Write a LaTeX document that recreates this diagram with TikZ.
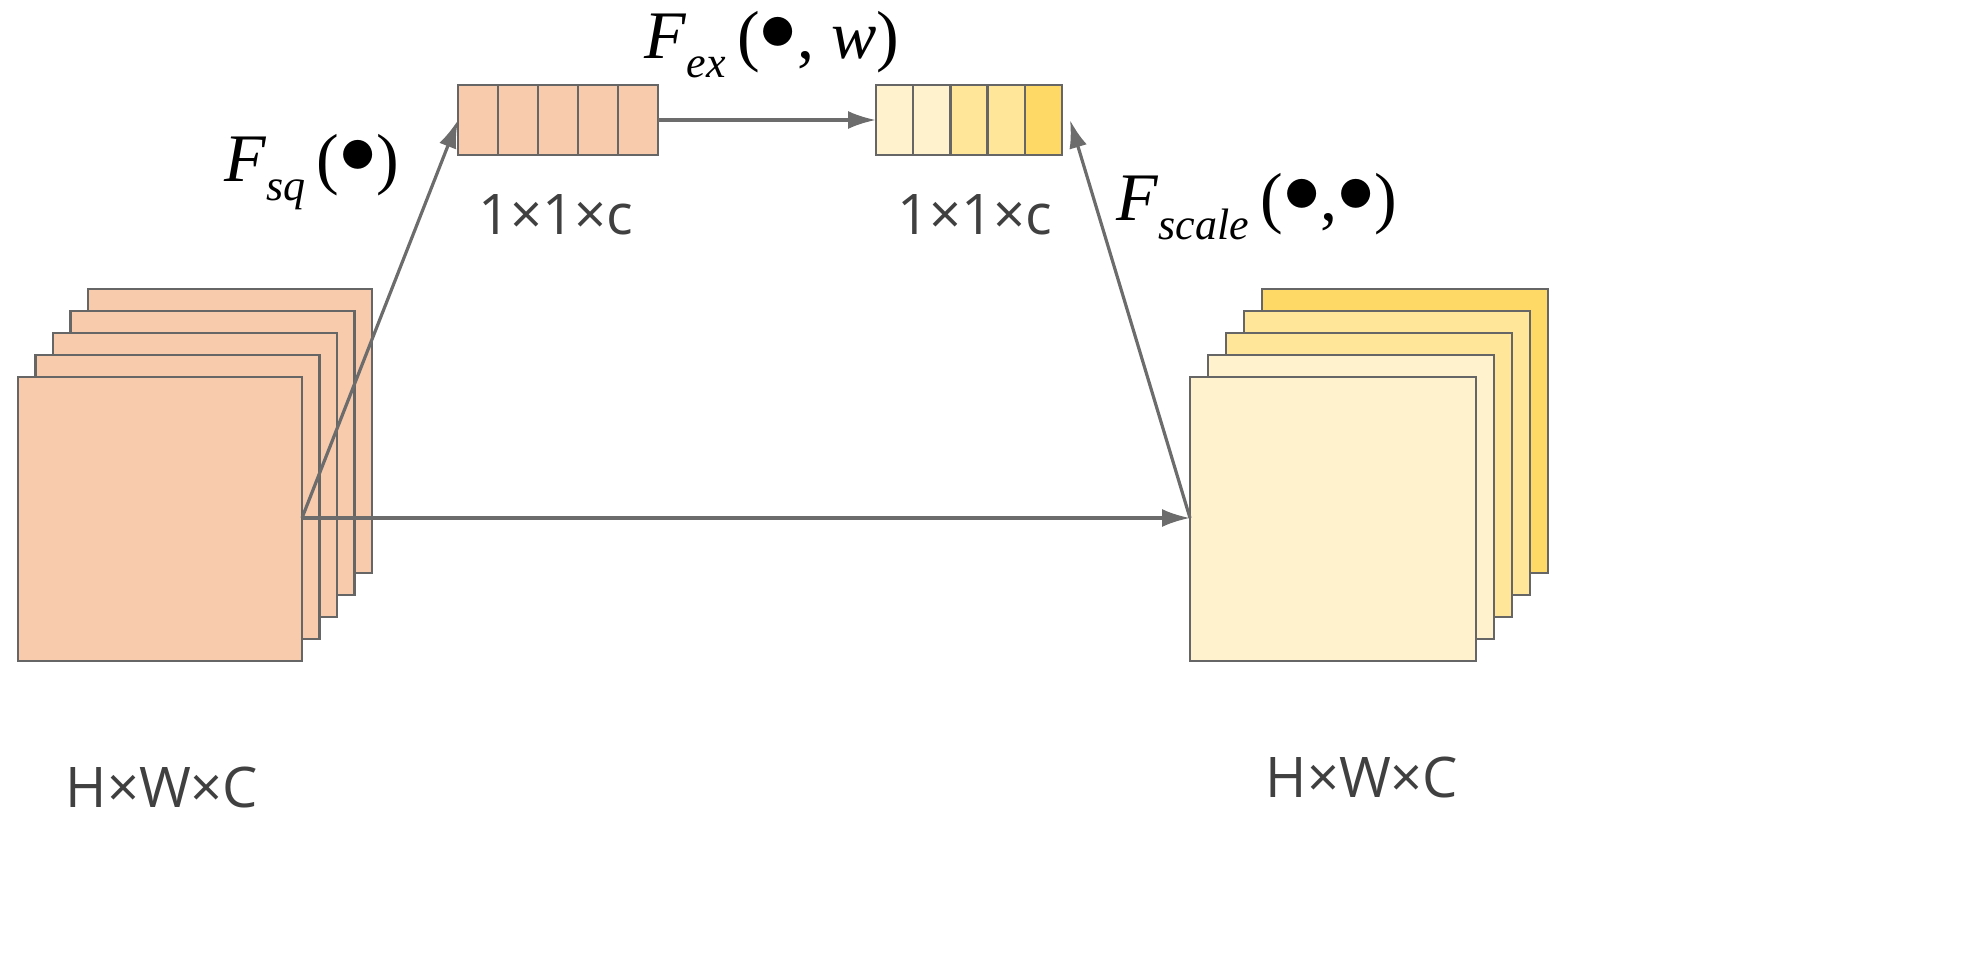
\documentclass[tikz,border=0pt]{standalone}
\usepackage{fontspec}
\setmainfont{Open Sans}
\newfontfamily\tms{Liberation Serif}
\usetikzlibrary{arrows.meta}
\newcommand{\mysub}[1]{\raisebox{-0.28em}{\fontsize{22}{22}\selectfont\itshape #1}}
\newcommand{\mybul}{\raisebox{0.12em}{\scalebox{1.5}{$\bullet$}}}
\begin{document}
\begin{tikzpicture}[x=0.5pt,y=-0.5pt,
  box/.style={draw=gray!80!black,line width=1.2pt},
  arr/.style={draw=gray!85!black,line width=1.6pt,-{Latex[length=14pt,width=9pt]}},
  lab/.style={text=black!75,font=\fontsize{28}{30}\selectfont},
  mth/.style={font=\tms\fontsize{34}{36}\selectfont}]
\useasboundingbox (0,0) rectangle (1987,975);
\definecolor{pch}{HTML}{F8CBAD}
\definecolor{y1}{HTML}{FFF2CC}
\definecolor{y2}{HTML}{FFE699}
\definecolor{y3}{HTML}{FFD966}
% left stack
\foreach \i in {4,3,2,1,0}{
  \draw[box,fill=pch] (18+17.5*\i,377-22*\i) rectangle ++(284,284);}
\coordinate (ls) at (302,518);
% right stack
\foreach \i/\c in {4/y3,3/y2,2/y2,1/y1,0/y1}{
  \draw[box,fill=\c] (1190+18*\i,377-22*\i) rectangle ++(286,284);}
\coordinate (rs) at (1190,518);
% top bars
\foreach \i in {0,...,4}{
  \draw[box,fill=pch] (458+40*\i,85) rectangle ++(40,70);}
\foreach \i/\c in {0/y1,1/y1,2/y2,3/y2,4/y3}{
  \draw[box,fill=\c] (876+37.2*\i,85) rectangle ++(37.2,70);}
\coordinate (bl) at (458,120);
\coordinate (br) at (658,120);
\coordinate (cl) at (876,120);
\coordinate (cr) at (1070,120);
\draw[arr] (ls) -- (bl);
\draw[arr] (br) -- (cl);
\draw[arr] (rs) -- (cr);
\draw[arr] (ls) -- (rs);
\node[mth] (fsq) at (312,172) {\textit{F}\mysub{sq}\,(\mybul)};
\node[mth] (fex) at (772,45) {\textit{F}\mysub{ex}\,(\mybul, \textit{w})};
\node[mth] (fsc) at (1257,207) {\textit{F}\mysub{scale}\,(\mybul,\mybul)};
\node[lab] (t1) at (556,215) {1×1×c};
\node[lab] (t2) at (975,215) {1×1×c};
\node[lab] (t3) at (162,787) {H×W×C};
\node[lab] (t4) at (1362,777) {H×W×C};
\end{tikzpicture}
\end{document}
